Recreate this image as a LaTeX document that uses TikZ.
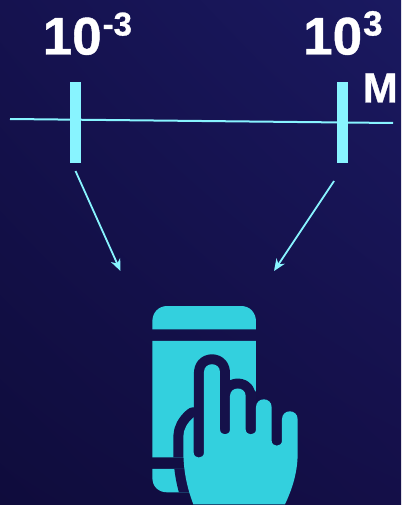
\documentclass[tikz,border=0pt]{standalone}
\usepackage{fontspec}
\setmainfont[BoldFeatures={FakeBold=0.8}]{Liberation Sans}
\usetikzlibrary{arrows.meta,shadings}
\definecolor{inkdark}{HTML}{0F0C3C}
\definecolor{inkmid}{HTML}{140F48}
\definecolor{inkleft}{HTML}{15124F}
\definecolor{inklight}{HTML}{1A1960}
\definecolor{halo}{HTML}{15114A}
\definecolor{ice}{HTML}{88F4FF}
\definecolor{teal}{HTML}{33D0DE}
\tikzset{
  ticknode/.style={
    rectangle, fill=ice, draw=none, inner sep=0pt,
    minimum width=11pt, minimum height=81pt
  },
  scaleline/.style={line width=2pt, color=ice},
  linkarrow/.style={
    -{Stealth[length=12pt, width=10pt]}, line width=1.8pt, color=ice
  },
  bignum/.style={
    font=\bfseries\fontsize{53}{53}\selectfont, text=white,
    inner sep=0pt, anchor=base west
  },
  unitnode/.style={
    font=\bfseries\fontsize{42}{42}\selectfont, text=white,
    inner sep=0pt, anchor=base west
  },
}
\newcommand{\numpower}[2][33]{10\kern1pt\raisebox{19pt}{\fontsize{#1}{#1}\selectfont #2}}
% phone and hand, traced in 3x crop units
\newcommand{\phonepath}{
  (67,118) -- (67,95) .. controls (67,68) and (85,48) .. (112,48)
  -- (333,48) .. controls (360,48) and (378,68) .. (378,95) -- (378,118) -- cycle
  (67,153) rectangle (378,502)
  (67,537) -- (200,537) -- (200,607) -- (112,607)
  .. controls (85,607) and (67,590) .. (67,562) -- cycle
}
\newcommand{\handpath}{
  (190,643) .. controls (170,590) and (160,540) .. (160,480)
  -- (160,440) .. controls (160,418) and (172,398) .. (191,382)
  -- (191,487) .. controls (191,508) and (222,508) .. (222,487)
  -- (222,246) .. controls (222,215) and (270,215) .. (270,246)
  -- (270,418) .. controls (270,438) and (300,438) .. (300,418)
  -- (300,318) .. controls (300,288) and (347,288) .. (347,318)
  -- (347,418) .. controls (347,438) and (378,438) .. (378,418)
  -- (378,352) .. controls (378,320) and (425,320) .. (425,352)
  -- (425,452) .. controls (425,472) and (456,472) .. (456,452)
  -- (456,388) .. controls (456,356) and (503,356) .. (503,388)
  -- (503,490) .. controls (503,550) and (485,600) .. (465,643)
  -- cycle
}
\begin{document}
\begin{tikzpicture}[x=1pt, y=-1pt]
  \useasboundingbox (0,0) rectangle (401,505);
  % Background
  \shade[lower left=inkdark, upper right=inklight, lower right=inkmid, upper left=inkleft]
    (0,0) rectangle (401,505);

  % Scale
  \coordinate (scalestart) at (10,119);
  \coordinate (scaleend) at (393,123);
  \draw[scaleline] (scalestart) -- (scaleend);
  \node[ticknode] (tickmilli) at (75.5,122.5) {};
  \node[ticknode] (tickkilo) at (342.5,122.5) {};

  % Labels
  \node[bignum] (labelmilli) at (42.5,54.5) {\numpower{-3}};
  \node[bignum] (labelkilo) at (303,54.5) {\numpower[35]{3}};
  \node[unitnode] (labelunit) at (362.5,102.5) {M};

  % Arrows
  \coordinate (milligo) at (75.5,171);
  \coordinate (milliend) at (120.5,271);
  \coordinate (kilogo) at (334,181);
  \coordinate (kiloend) at (274,271);
  \draw[linkarrow] (milligo) -- (milliend);
  \draw[linkarrow] (kilogo) -- (kiloend);

  % Phone with hand
  \begin{scope}[shift={(130,290)}, x=0.3333pt, y=-0.3333pt]
    \fill[teal] \phonepath;
    \begin{scope}
      \clip \phonepath;
      \draw[halo, line width=20pt, line join=round] \handpath;
    \end{scope}
    \fill[teal] \handpath;
  \end{scope}
\end{tikzpicture}
\end{document}
